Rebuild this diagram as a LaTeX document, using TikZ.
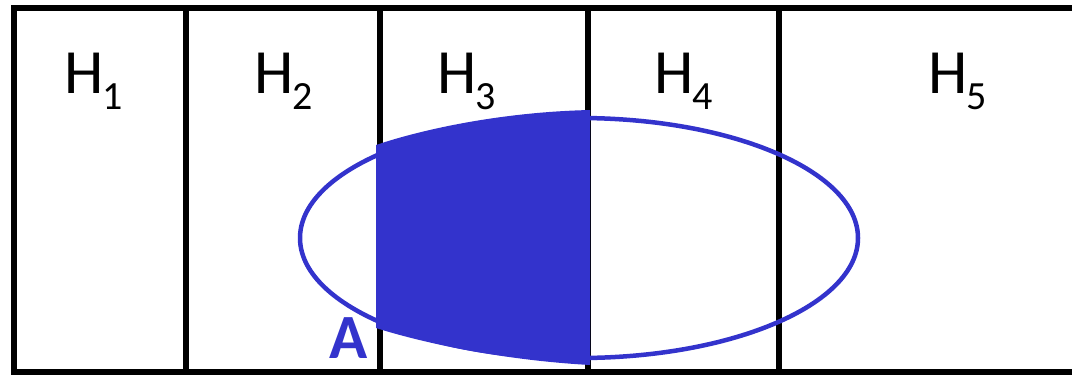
\documentclass[tikz,border=0pt]{standalone}
\usepackage{fontspec}
\setmainfont{Carlito}
\usetikzlibrary{shapes.geometric}
\definecolor{setblue}{HTML}{3333CC}
\begin{document}
\begin{tikzpicture}[x=1pt,y=-1pt,
  frame/.style={line width=5.5pt,black},
  hlabel/.style={anchor=base west,inner sep=0pt,font=\fontsize{63}{63}\selectfont},
  sub/.style={anchor=base west,inner sep=0pt,font=\fontsize{40}{40}\selectfont}]
\useasboundingbox (0,0) rectangle (1072,376);
% frame
\draw[frame] (1080,8) -- (14,8) -- (14,372) -- (1080,372);
\foreach \x/\n in {186/a,380/b,588/c,779/d}
  \draw[frame] (\x,8) coordinate (t\n) -- (\x,372) coordinate (b\n);
% ellipse
\node[draw=setblue,line width=4.5pt,ellipse,minimum width=558pt,minimum height=240pt,inner sep=0pt] (E) at (579,238) {};
% filled part
\fill[setblue] (376,145) .. controls (420,130) and (500,112) .. (590,110) -- (590,365)
  .. controls (500,360) and (420,342) .. (376,328) -- cycle;
% labels
\node[hlabel] (h1) at (64,93) {H};
\node[sub] (s1) at (102,109) {1};
\node[hlabel] (h2) at (254,93) {H};
\node[sub] (s2) at (292,109) {2};
\node[hlabel] (h3) at (437,93) {H};
\node[sub] (s3) at (475,109) {3};
\node[hlabel] (h4) at (654,93) {H};
\node[sub] (s4) at (692,109) {4};
\node[hlabel] (h5) at (928,93) {H};
\node[sub] (s5) at (966,109) {5};
\node[anchor=base west,inner sep=0pt,text=setblue,font=\bfseries\fontsize{63}{63}\selectfont] (A) at (329,358) {A};
\end{tikzpicture}
\end{document}
